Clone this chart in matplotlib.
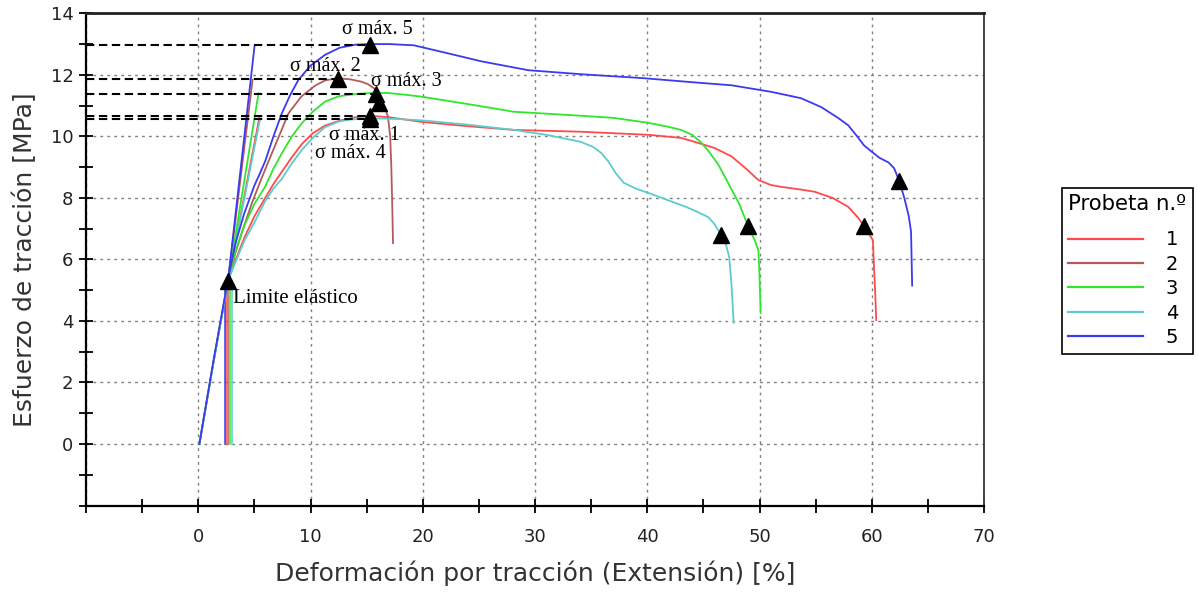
import matplotlib
matplotlib.use("Agg")
import matplotlib.pyplot as plt
from matplotlib.lines import Line2D

# ---- data: tensile curves, strain [%] vs stress [MPa] ----
strain_1 = [0.1, 1.4, 2.65, 3.3, 4.1, 5.0, 5.97, 6.7, 7.45, 8.3, 9.23, 10.2, 11.3, 12.7, 14.0,
            15.3, 17.0, 19.9, 24.0, 28.1, 34.1, 40.1, 43.0, 44.5, 46.0, 47.5, 48.8, 49.9, 51.0,
            51.9, 53.5, 54.9, 56.5, 57.9, 58.8, 59.3, 59.8, 60.1, 60.2, 60.3, 60.4]
stress_1 = [0, 2.75, 5.3, 5.95, 6.7, 7.4, 8.0, 8.45, 8.85, 9.3, 9.75, 10.1, 10.35, 10.52, 10.62,
            10.67, 10.62, 10.47, 10.33, 10.21, 10.15, 10.05, 9.95, 9.79, 9.62, 9.35, 8.95, 8.58, 8.42,
            8.36, 8.28, 8.2, 8.0, 7.71, 7.35, 7.09, 6.8, 6.63, 5.76, 5.0, 4.03]

strain_2 = [0.1, 1.4, 2.65, 3.3, 4.0, 4.8, 5.6, 6.5, 7.3, 8.04, 9.2, 10.42, 11.3, 12.45, 13.6,
            14.5, 15.1, 15.7, 16.1, 16.6, 16.9, 17.1, 17.2, 17.3, 17.35]
stress_2 = [0, 2.75, 5.3, 6.2, 7.0, 7.85, 8.6, 9.4, 10.1, 10.75, 11.3, 11.65, 11.82, 11.89, 11.85,
            11.78, 11.7, 11.55, 11.3, 10.97, 10.64, 10.0, 9.0, 7.5, 6.53]

strain_3 = [0.1, 1.4, 2.65, 3.3, 4.1, 5.0, 5.97, 6.7, 7.45, 8.3, 9.23, 10.2, 11.3, 12.5, 13.6,
            15.0, 15.85, 16.9, 18.5, 19.9, 24.0, 28.1, 34.1, 37.0, 40.1, 42.0, 43.0, 44.0, 44.8,
            45.5, 46.3, 47.2, 48.2, 49.0, 49.6, 49.9, 50.0, 50.1]
stress_3 = [0, 2.75, 5.3, 6.25, 7.1, 7.8, 8.37, 8.95, 9.45, 9.98, 10.43, 10.8, 11.13, 11.3, 11.36,
            11.4, 11.41, 11.41, 11.35, 11.29, 11.05, 10.8, 10.67, 10.6, 10.44, 10.3, 10.21, 10.05, 9.8,
            9.5, 9.1, 8.49, 7.8, 7.07, 6.6, 6.3, 5.5, 4.26]

strain_4 = [0.1, 1.4, 2.65, 3.3, 4.1, 5.0, 5.97, 6.7, 7.45, 8.3, 9.23, 10.2, 11.3, 12.5, 13.6,
            15.3, 16.3, 18.0, 19.9, 24.0, 28.1, 31.0, 34.1, 35.2, 35.9, 36.5, 37.2, 37.9, 39.0,
            40.1, 41.8, 43.5, 44.5, 45.4, 45.9, 46.6, 47.0, 47.3, 47.5, 47.7]
stress_4 = [0, 2.75, 5.3, 5.9, 6.6, 7.2, 7.9, 8.3, 8.62, 9.1, 9.56, 9.95, 10.3, 10.48, 10.55,
            10.58, 10.58, 10.56, 10.52, 10.38, 10.21, 10.05, 9.82, 9.65, 9.46, 9.2, 8.8, 8.49, 8.3,
            8.16, 7.93, 7.7, 7.54, 7.38, 7.19, 6.8, 6.5, 6.08, 5.2, 3.94]

strain_5 = [0.1, 1.4, 2.65, 3.3, 4.1, 5.0, 5.5, 5.97, 6.7, 7.45, 8.2, 8.93, 10.0, 11.3, 12.6, 14.0,
            15.3, 17.0, 19.2, 22.0, 25.2, 29.4, 34.1, 39.7, 44.0, 47.5, 51.0, 53.7, 55.5, 57.0,
            57.9, 58.7, 59.3, 60.0, 60.7, 61.5, 62.0, 62.45, 62.9, 63.3, 63.5, 63.6]
stress_5 = [0, 2.8, 5.35, 6.5, 7.5, 8.4, 8.8, 9.2, 10.0, 10.75, 11.35, 11.84, 12.3, 12.65, 12.88, 12.98,
            13.0, 13.0, 12.96, 12.72, 12.44, 12.15, 12.02, 11.89, 11.76, 11.66, 11.45, 11.24, 10.95, 10.6,
            10.36, 10.0, 9.71, 9.5, 9.3, 9.15, 8.96, 8.55, 8.0, 7.4, 6.9, 5.15]

specimens = ["1", "2", "3", "4", "5"]
colors = ["#ff4a4a", "#b45a5a", "#2ee62e", "#5ccccc", "#3a3aee"]
curves_x = [strain_1, strain_2, strain_3, strain_4, strain_5]
curves_y = [stress_1, stress_2, stress_3, stress_4, stress_5]

# modulus lines from the yield point up to their upper end
yield_point = (2.65, 5.3)
modulus_end_x = [5.46, 4.84, 5.37, 5.5, 5.01]
modulus_end_y = [10.64, 11.84, 11.4, 10.55, 12.92]

# short vertical offset lines at the yield strain
offset_x = [2.5, 2.64, 2.79, 3.0, 2.35]
offset_top = 5.23

# maximum stress points (specimens 1..5)
peak_x = [15.3, 12.45, 15.85, 15.3, 15.3]
peak_y = [10.67, 11.87, 11.37, 10.56, 12.98]
extra_mark = (16.06, 11.08)

# break points
break_x = [59.3, 46.6, 49.0, 62.45]
break_y = [7.09, 6.8, 7.07, 8.55]

peak_labels = ["σ máx. 1", "σ máx. 2", "σ máx. 3", "σ máx. 4", "σ máx. 5"]
peak_label_pos = [(14.78, 9.87), (11.31, 12.11), (18.57, 11.63), (13.53, 9.28), (15.94, 13.33)]

x_ticks = [-10, 0, 10, 20, 30, 40, 50, 60, 70]
x_tick_labels = ["", "0", "10", "20", "30", "40", "50", "60", "70"]
y_ticks = [-2, 0, 2, 4, 6, 8, 10, 12, 14]
y_tick_labels = ["", "0", "2", "4", "6", "8", "10", "12", "14"]

# ---- figure ----
W, H = 1198, 592
fig = plt.figure(figsize=(W / 100, H / 100), dpi=100)
ax = fig.add_axes([86 / W, 1 - 505.5 / H, (984 - 86) / W, (505.5 - 13.3) / H])
ax.set_xlim(-10, 70)
ax.set_ylim(-2, 14)

lw = 1.3
# vertical offset lines
for xo, c in zip(offset_x, colors):
    ax.plot([xo, xo], [0, offset_top], color=c, lw=1.1, zorder=2)
# modulus lines
for ex, ey, c in zip(modulus_end_x, modulus_end_y, colors):
    ax.plot([yield_point[0], ex], [yield_point[1], ey], color=c, lw=lw, zorder=3)
# tensile curves
for xs, ys, c in zip(curves_x, curves_y, colors):
    ax.plot(xs, ys, color=c, lw=lw, zorder=3, solid_joinstyle="round")

# dashed max-stress guides
for px, py in zip(peak_x, peak_y):
    ax.plot([-10, px], [py, py], color="black", lw=1.5, dashes=(4, 2.2), zorder=4)

tri = dict(marker="^", color="black", markersize=11, linestyle="none", zorder=5)
ax.plot(peak_x, peak_y, **tri)
ax.plot([extra_mark[0]], [extra_mark[1]], **tri)
ax.plot(break_x, break_y, **tri)
ax.plot([yield_point[0]], [yield_point[1]], **tri)

serif = ["Liberation Serif", "DejaVu Serif"]
for txt, (tx, ty) in zip(peak_labels, peak_label_pos):
    ax.text(tx, ty, txt, ha="center", va="baseline", family=serif, fontsize=14.5, zorder=6)
ax.text(3.12, 4.585, "Limite elástico", ha="left", va="baseline", family=serif, fontsize=15, zorder=6)

# axes styling
ax.set_xticks(x_ticks)
ax.set_xticklabels(x_tick_labels)
ax.set_xticks([-5, 5, 15, 25, 35, 45, 55, 65], minor=True)
ax.set_yticks(y_ticks)
ax.set_yticklabels(y_tick_labels)
ax.set_yticks([-1, 1, 3, 5, 7, 9, 11, 13], minor=True)
ax.tick_params(which="both", direction="inout", length=10, width=1.3, color="black")
ax.tick_params(axis="x", labelsize=13, pad=11, labelcolor="#222222")
ax.tick_params(axis="y", labelsize=13, pad=4, labelcolor="#222222")

ax.grid(True, which="major", color="#808080", linestyle=(0, (2, 3)), lw=1.0)
ax.set_axisbelow(True)

for side in ["left", "bottom"]:
    ax.spines[side].set_linewidth(1.6)
    ax.spines[side].set_color("black")
ax.spines["top"].set_linewidth(2.0)
ax.spines["top"].set_color("#222222")
ax.spines["right"].set_linewidth(1.4)
ax.spines["right"].set_color("#444444")

ax.set_xlabel("Deformación por tracción (Extensión) [%]", fontsize=18, color="#333333", labelpad=11)
ax.set_ylabel("Esfuerzo de tracción [MPa]", fontsize=18, color="#333333", labelpad=10)

handles = [Line2D([], [], color=c, lw=1.6) for c in colors]
leg = fig.legend(handles, specimens, loc="upper left", bbox_to_anchor=(1062 / W, 1 - 188 / H),
                 borderaxespad=0, title="Probeta n.º", alignment="left", fontsize=14,
                 title_fontsize=15.3, frameon=True, fancybox=False, edgecolor="black", framealpha=1,
                 handlelength=3.85, handletextpad=1.15, labelspacing=0.28, borderpad=0.33)
leg.get_frame().set_linewidth(1.2)
# extra room between the title and the entries
leg._legend_box.sep = 11.5

fig.savefig("out.png", dpi=100)
